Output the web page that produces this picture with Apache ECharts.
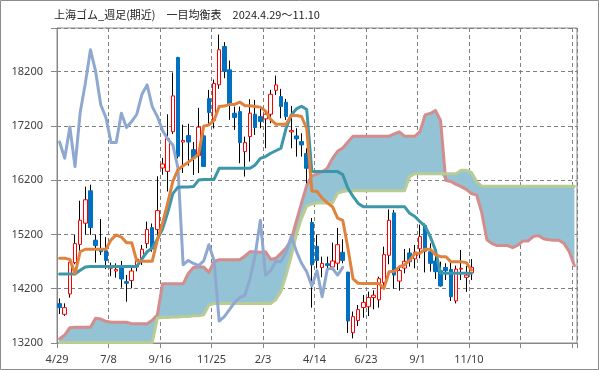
<!DOCTYPE html>
<html><head><meta charset="utf-8">
<script src="https://cdn.jsdelivr.net/npm/echarts/dist/echarts.min.js"></script>
<style>html,body{margin:0;padding:0;background:#fff}#c{width:599px;height:370px}</style>
</head><body><div id="c"></div><script>
const categories = [
'2024/4/29','2024/5/6','2024/5/13','2024/5/20','2024/5/27','2024/6/3','2024/6/10','2024/6/17','2024/6/24','2024/7/1',
'2024/7/8','2024/7/15','2024/7/22','2024/7/29','2024/8/5','2024/8/12','2024/8/19','2024/8/26','2024/9/2','2024/9/9',
'2024/9/16','2024/9/23','2024/9/30','2024/10/7','2024/10/14','2024/10/21','2024/10/28','2024/11/4','2024/11/11','2024/11/18',
'2024/11/25','2024/12/2','2024/12/9','2024/12/16','2024/12/23','2024/12/30','2025/1/6','2025/1/13','2025/1/20','2025/1/27',
'2025/2/3','2025/2/10','2025/2/17','2025/2/24','2025/3/3','2025/3/10','2025/3/17','2025/3/24','2025/3/31','2025/4/7',
'2025/4/14','2025/4/21','2025/4/28','2025/5/5','2025/5/12','2025/5/19','2025/5/26','2025/6/2','2025/6/9','2025/6/16',
'2025/6/23','2025/6/30','2025/7/7','2025/7/14','2025/7/21','2025/7/28','2025/8/4','2025/8/11','2025/8/18','2025/8/25',
'2025/9/1','2025/9/8','2025/9/15','2025/9/22','2025/9/29','2025/10/6','2025/10/13','2025/10/20','2025/10/27','2025/11/3',
'2025/11/10','2025/11/17','2025/11/24','2025/12/1','2025/12/8','2025/12/15','2025/12/22','2025/12/29','2026/1/5','2026/1/12',
'2026/1/19','2026/1/26','2026/2/2','2026/2/9','2026/2/16','2026/2/23','2026/3/2','2026/3/9','2026/3/16','2026/3/23',
'2026/3/30'];
const tickLabels = ['4/29','7/8','9/16','11/25','2/3','4/14','6/23','9/1','11/10'];
const yTicks = [13200,14200,15200,16200,17200,18200];

const opens = [
13925,13728,14103,14680,15017,15406,16003,15093,14930,14900,
14575,14526,14612,14330,14352,14600,14760,15030,15324,15288,
16423,16360,17090,18456,16900,17020,16760,16650,17015,17700,
17300,17955,18660,18230,17431,17461,16724,17001,17412,17369,
17326,17412,17854,17737,17633,17087,17013,16909,16688,15420,
14980,14590,14660,14600,14670,14870,14505,13390,13615,13853,
13867,14038,13995,14310,14815,15595,14340,14580,14858,14750,
14935,15365,14880,14710,14530,14590,14556,13975,14560,14409,
14494];
const closes = [
13851,13851,14690,15030,15460,15837,15325,14993,14880,14720,
14606,14555,14379,14300,14526,14745,14925,15290,14931,15638,
16497,16965,17750,16640,16930,16900,16602,17175,16450,17443,
17980,18600,18200,17584,17351,16890,16890,17431,17167,17277,
17412,17780,17952,17553,17369,17111,16958,16847,16417,14640,
14720,14665,14625,14710,15010,14720,13605,13685,13815,13948,
14037,14080,14385,14827,15460,14450,14535,14705,14698,14873,
15160,14890,14667,14513,14250,14530,14052,14560,14575,14450,
14593];
const lows = [
13734,13700,14035,14650,14900,15200,15190,14680,14821,14560,
14430,14403,14219,13961,14207,14520,14637,14944,14880,15067,
16299,15990,17050,16600,16330,16465,16295,16330,16448,17216,
17150,17880,18075,17310,17124,16509,16264,16540,17031,17154,
16786,17246,17768,17338,17308,16786,16632,16632,16141,13851,
14575,14410,14500,14543,14543,14667,13385,13285,13513,13667,
13697,13820,13851,14195,14650,14200,14164,14483,14606,14575,
14760,14500,14514,14379,14238,14360,13974,13930,14360,14142,
14359];
const highs = [
14020,13930,14760,15190,15820,16080,16115,15190,15484,15150,
14680,14667,14710,14453,14606,14800,15005,15435,15400,16270,
16608,17410,18180,18470,17220,17236,16900,17530,17216,17860,
18050,18880,18740,18400,17553,17553,17001,17688,17676,17523,
17473,17860,18124,17879,17694,17566,17154,17062,16786,15500,
15190,14790,14790,15048,15320,15110,14510,13780,13900,14084,
14146,14170,14422,14975,15660,15650,14618,14931,14944,15005,
15380,15400,15036,14913,14698,14667,14698,14624,14913,14617,
14745];
const tenkan = [
14760,14760,14740,14470,14880,14926,14926,14926,14926,14926,
15100,15190,15150,15048,15048,14710,14706,14706,14706,15097,
15406,15776,16175,16391,16465,16530,16600,16675,17192,17216,
17300,17553,17562,17593,17593,17636,17568,17568,17553,17543,
17469,17316,17229,17229,17229,17390,17390,17370,17150,16000,
15990,15870,15780,15710,15500,15460,14950,14380,14300,14296,
14296,14296,14296,14205,14512,14520,14604,14640,14720,14852,
14852,14926,14926,14827,14789,14789,14697,14697,14697,14680,
14543];
const kijun = [
14470,14470,14470,14470,14540,14600,14610,14610,14610,14610,
14610,14610,14610,14610,14610,14610,14750,14880,14950,15116,
15300,15600,15950,16070,16074,16074,16080,16200,16210,16210,
16215,16417,16417,16417,16417,16417,16417,16417,16479,16600,
16632,16694,16740,16786,17154,17400,17510,17560,17500,16356,
16356,16356,16356,16356,16356,16300,16050,15900,15770,15711,
15711,15711,15711,15711,15711,15711,15711,15711,15588,15529,
15436,15350,15159,14913,14483,14483,14483,14483,14483,14483,
14483];
const chikou = [
16900,16602,17175,16450,17443,17980,18600,18200,17584,17351,
16890,16890,17431,17167,17277,17412,17780,17952,17553,17369,
17111,16958,16847,16417,14640,14720,14665,14625,14710,15010,
14720,13605,13685,13815,13948,14037,14080,14385,14827,15460,
14450,14535,14705,14698,14873,15160,14890,14667,14513,14250,
14530,14052,14560,14575,14450,14593];
const senkouA = [
13274,13347,13482,13489,13489,13489,13489,13654,13640,13600,
13581,13581,13581,13581,13556,13556,13556,13556,13620,13720,
14290,14290,14290,14290,14290,14480,14590,14600,14600,14500,
14700,14734,14734,14734,14734,14734,14800,14882,14882,14870,
14882,14740,14760,14850,14950,15100,15450,15780,16100,16280,
16310,16350,16420,16600,16730,16792,16900,17007,17007,17007,
17007,17007,17007,17007,17007,17050,17088,17010,17007,17007,
17093,17400,17427,17482,17300,16194,16175,16120,16080,16030,
15950,15926,15600,15100,15030,14993,14993,14993,14956,15000,
15079,15079,15159,15177,15120,15100,15091,15091,15030,14882,
14624];
const senkouB = [
13210,13210,13210,13210,13210,13210,13210,13210,13210,13210,
13210,13210,13210,13210,13210,13210,13210,13210,13210,13660,
13670,13670,13680,13680,13690,13690,13700,13700,13720,13897,
13928,13928,13928,13928,13928,13928,13928,13928,13928,13928,
13928,13928,14000,14150,14450,14800,15200,15500,15720,15760,
15776,15776,15776,15776,15960,15990,16003,16003,16003,16003,
16003,16003,16003,16003,16003,16003,16003,16003,16268,16317,
16317,16317,16317,16317,16317,16317,16317,16317,16379,16379,
16340,16172,16086,16086,16086,16086,16086,16086,16086,16086,
16086,16086,16086,16086,16086,16086,16086,16086,16086,16086,
16086];

const wickData = opens.map((o, i) => [o, closes[i], lows[i], highs[i]]);
const bodyData = opens.map((o, i) => [o, closes[i], Math.min(o, closes[i]), Math.max(o, closes[i])]);
const cloudBase = senkouA.map((a, i) => Math.min(a, senkouB[i]));
const cloudBand = senkouA.map((a, i) => Math.abs(a - senkouB[i]));

const chart = echarts.init(document.getElementById('c'), null, {renderer: 'canvas'});
const gridColor = '#808080';
const axisColor = '#888888';
const lineS = (name, data, color, z) => ({
  name, type: 'line', data, symbol: 'none', showSymbol: false, z,
  lineStyle: {color, width: 3, join: 'round', cap: 'round'}, itemStyle: {color}
});
chart.setOption({
  animation: false,
  backgroundColor: '#fff',
  title: {
    text: '上海ゴム_週足(期近)　一目均衡表　2024.4.29～11.10',
    left: 49, top: 4,
    textStyle: {fontSize: 11, fontWeight: 'normal', color: '#222', fontFamily: '"Noto Sans CJK JP", sans-serif'}
  },
  grid: {left: 57, right: 22, top: 28, bottom: 27, show: true, borderColor: axisColor, borderWidth: 1, outerBoundsMode: 'none'},
  xAxis: {
    type: 'category', data: categories, boundaryGap: true,
    axisLine: {show: true, lineStyle: {color: axisColor, width: 1}},
    axisTick: {show: true, interval: 9, length: 5, lineStyle: {color: axisColor}},
    axisLabel: {
      interval: (idx) => idx % 10 === 0 && idx / 10 < tickLabels.length,
      formatter: (v, idx) => tickLabels[Math.round(idx / 10)] || '',
      color: '#404040', fontSize: 11, fontFamily: '"Noto Sans", sans-serif', margin: 11,
      padding: [0, 5, 0, 0]
    },
    splitLine: {show: true, interval: 9, lineStyle: {color: gridColor, type: [4, 3], width: 1}}
  },
  yAxis: {
    type: 'value', min: 13200, max: 19000, interval: 1000,
    axisLine: {show: true, lineStyle: {color: axisColor, width: 1}},
    axisTick: {show: true, length: 6, lineStyle: {color: axisColor}},
    axisLabel: {
      formatter: (v) => yTicks.includes(v) ? String(v) : '',
      color: '#404040', fontSize: 11, fontFamily: '"Noto Sans", sans-serif', margin: 14
    },
    splitLine: {show: true, lineStyle: {color: gridColor, type: [4, 3], width: 1}}
  },
  series: [
    {name: 'cloudBase', type: 'line', data: cloudBase, stack: 'cloud', symbol: 'none', z: 1,
     lineStyle: {width: 0, opacity: 0}, silent: true},
    {name: 'cloud', type: 'line', data: cloudBand, stack: 'cloud', symbol: 'none', z: 1,
     lineStyle: {width: 0, opacity: 0}, areaStyle: {color: '#93C3D5', opacity: 1}, silent: true},
    lineS('先行スパン1', senkouA, '#D48C8C', 2),
    lineS('先行スパン2', senkouB, '#B9CC94', 2),
    {name: 'wick', type: 'candlestick', data: wickData, barWidth: 1, z: 3,
     itemStyle: {color: '#000', color0: '#000', borderColor: '#000', borderColor0: '#000', borderWidth: 1}},
    {name: 'body', type: 'candlestick', data: bodyData, barWidth: 4, z: 4,
     itemStyle: {color: '#ffffff', color0: '#0070C0', borderColor: '#FF0000', borderColor0: '#0070C0', borderWidth: 1}},
    lineS('遅行スパン', chikou, '#8FA8D0', 5),
    lineS('基準線', kijun, '#3C97AA', 6),
    lineS('転換線', tenkan, '#E0823C', 7)
  ],
  graphic: [{type: 'rect', shape: {x: 0.5, y: 0.5, width: 598, height: 369}, style: {fill: 'none', stroke: '#8c8c8c', lineWidth: 1}, z: 100}]
});
</script></body></html>
